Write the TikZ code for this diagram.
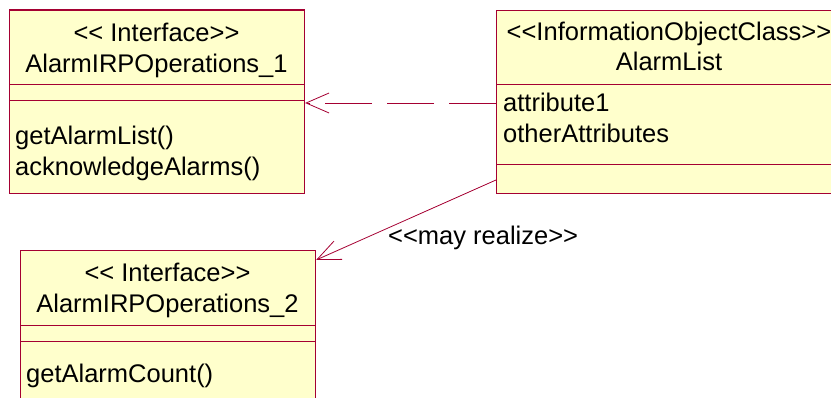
\documentclass[tikz,border=0pt]{standalone}
\usepackage{fontspec}
\setmainfont{Liberation Sans}
\usetikzlibrary{arrows.meta}
\definecolor{umlfill}{HTML}{FFFFCC}
\definecolor{umlline}{RGB}{165,0,50}
\begin{document}
\begin{tikzpicture}[x=1pt,y=-1pt,
  box/.style={draw=umlline, fill=umlfill, line width=1.1pt, inner sep=0pt, anchor=north west},
  sep/.style={draw=umlline, line width=0.8pt},
  txt/.style={font=\fontsize{25.5}{30}\selectfont, inner sep=0pt, anchor=base},
  ltxt/.style={txt, anchor=base west},
  conn/.style={draw=umlline, line width=0.8pt},
  tip/.style={-{Straight Barb[length=23pt,width=20pt,line width=0.8pt]}}
]
\useasboundingbox (0,0) rectangle (831,398);
% boxes
\node[box, minimum width=295pt, minimum height=183.5pt] (c1) at (9,9.5) {};
\node[box, minimum width=346pt, minimum height=183pt] (c2) at (496,10) {};
\node[box, minimum width=295pt, minimum height=170pt] (c3) at (20,250) {};
% dividers
\draw[sep] (c1.west |- 0,84) -- (c1.east |- 0,84);
\draw[sep] (c1.west |- 0,100) -- (c1.east |- 0,100);
\draw[sep] (c2.west |- 0,84) -- (c2.east |- 0,84);
\draw[sep] (c2.west |- 0,164) -- (c2.east |- 0,164);
\draw[sep] (c3.west |- 0,325) -- (c3.east |- 0,325);
\draw[sep] (c3.west |- 0,341) -- (c3.east |- 0,341);
% texts box 1
\node[txt] (c1s) at (156.5,42) {<{}< Interface>{}>};
\node[txt] (c1n) at (156.5,73) {AlarmIRPOperations\_1};
\node[ltxt] (c1m1) at (15,145) {getAlarmList()};
\node[ltxt] (c1m2) at (15,176) {acknowledgeAlarms()};
% texts box 2
\node[txt] (c2s) at (669,41) {<{}<InformationObjectClass>{}>};
\node[txt] (c2n) at (669,71) {AlarmList};
\node[ltxt] (c2a1) at (503,112) {attribute1};
\node[ltxt] (c2a2) at (503,143) {otherAttributes};
% texts box 3
\node[txt] (c3s) at (167.5,282) {<{}< Interface>{}>};
\node[txt] (c3n) at (167.5,313) {AlarmIRPOperations\_2};
\node[ltxt] (c3m1) at (26,383) {getAlarmCount()};
% connectors
\coordinate (d1) at (c2.west |- 0,103);
\coordinate (d2) at (c1.east |- 0,103);
\draw[conn, tip, dash pattern=on 47pt off 15pt] (d1) -- (d2);
\coordinate (s1) at (c2.west |- 0,180);
\coordinate (s2) at (c3.east |- 0,260);
\draw[conn, tip] (s1) -- (s2);
\node[ltxt] (lbl) at (388,245) {<{}<may realize>{}>};
\end{tikzpicture}
\end{document}
